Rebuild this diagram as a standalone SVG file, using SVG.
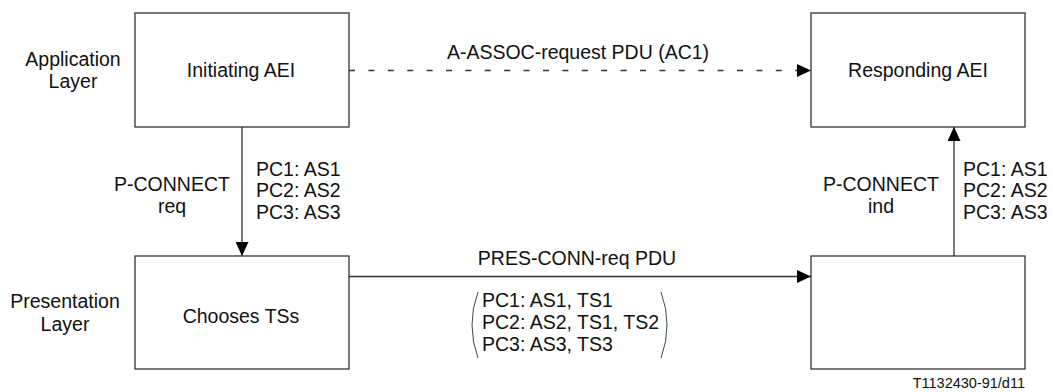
<svg xmlns="http://www.w3.org/2000/svg" width="1053" height="392" viewBox="0 0 1053 392">
  <style>
    text { font-family: "Liberation Sans", Arial, sans-serif; font-size: 19.5px; fill: #111; }
    .mid { text-anchor: middle; }
    .box { fill: #fff; stroke: #333; stroke-width: 1.3; }
    .line { fill: none; stroke: #333; stroke-width: 1.3; }
    .dash { stroke-dasharray: 6 13.4; }
    .paren { fill: none; stroke: #444; stroke-width: 1; }
    .small { font-size: 14.5px; }
  </style>
  <defs>
    <marker id="arrow" viewBox="0 0 14 13" refX="14" refY="6.5" markerWidth="14" markerHeight="13" markerUnits="userSpaceOnUse" orient="auto">
      <path d="M0,0 L14,6.5 L0,13 Z" fill="#000"/>
    </marker>
  </defs>

  <!-- layer captions -->
  <g id="layer-application">
    <text class="mid" x="73" y="66">Application</text>
    <text class="mid" x="73" y="88">Layer</text>
  </g>
  <g id="layer-presentation">
    <text class="mid" x="65" y="308">Presentation</text>
    <text class="mid" x="65" y="331">Layer</text>
  </g>

  <!-- nodes -->
  <g id="initiating-aei">
    <rect class="box" x="135" y="13" width="214" height="114"/>
    <text class="mid" x="241" y="77">Initiating AEI</text>
  </g>
  <g id="responding-aei">
    <rect class="box" x="811" y="13" width="214" height="114"/>
    <text class="mid" x="918" y="77">Responding AEI</text>
  </g>
  <g id="chooses-tss">
    <rect class="box" x="135" y="256" width="214" height="113"/>
    <text class="mid" x="241" y="323">Chooses TSs</text>
  </g>
  <g id="responding-presentation">
    <rect class="box" x="811" y="256" width="214" height="113"/>
  </g>

  <!-- connectors -->
  <g id="connectors">
    <line class="line dash" x1="349" y1="70.5" x2="811" y2="70.5" marker-end="url(#arrow)"/>
    <line class="line" x1="242" y1="127" x2="242" y2="256" marker-end="url(#arrow)"/>
    <line class="line" x1="349" y1="276.5" x2="811" y2="276.5" marker-end="url(#arrow)"/>
    <line class="line" x1="954" y1="256" x2="954" y2="127" marker-end="url(#arrow)"/>
  </g>

  <!-- connector labels -->
  <g id="labels">
    <text class="mid" x="578" y="59">A-ASSOC-request PDU (AC1)</text>

    <text class="mid" x="172" y="191">P-CONNECT</text>
    <text class="mid" x="172" y="213">req</text>
    <text x="256" y="176">PC1: AS1</text>
    <text x="256" y="197">PC2: AS2</text>
    <text x="256" y="219">PC3: AS3</text>

    <text class="mid" x="881" y="191">P-CONNECT</text>
    <text class="mid" x="881" y="213">ind</text>
    <text x="963" y="176">PC1: AS1</text>
    <text x="963" y="197">PC2: AS2</text>
    <text x="963" y="219">PC3: AS3</text>

    <text class="mid" x="577" y="265">PRES-CONN-req PDU</text>
    <path class="paren" d="M478,292 Q472,308 472,325 Q472,342 478,358"/>
    <text x="482" y="307">PC1: AS1, TS1</text>
    <text x="482" y="329">PC2: AS2, TS1, TS2</text>
    <text x="482" y="351">PC3: AS3, TS3</text>
    <path class="paren" d="M661,292 Q667,308 667,325 Q667,342 661,358"/>
  </g>

  <text class="small" x="1025" y="388" text-anchor="end">T1132430-91/d11</text>
</svg>
